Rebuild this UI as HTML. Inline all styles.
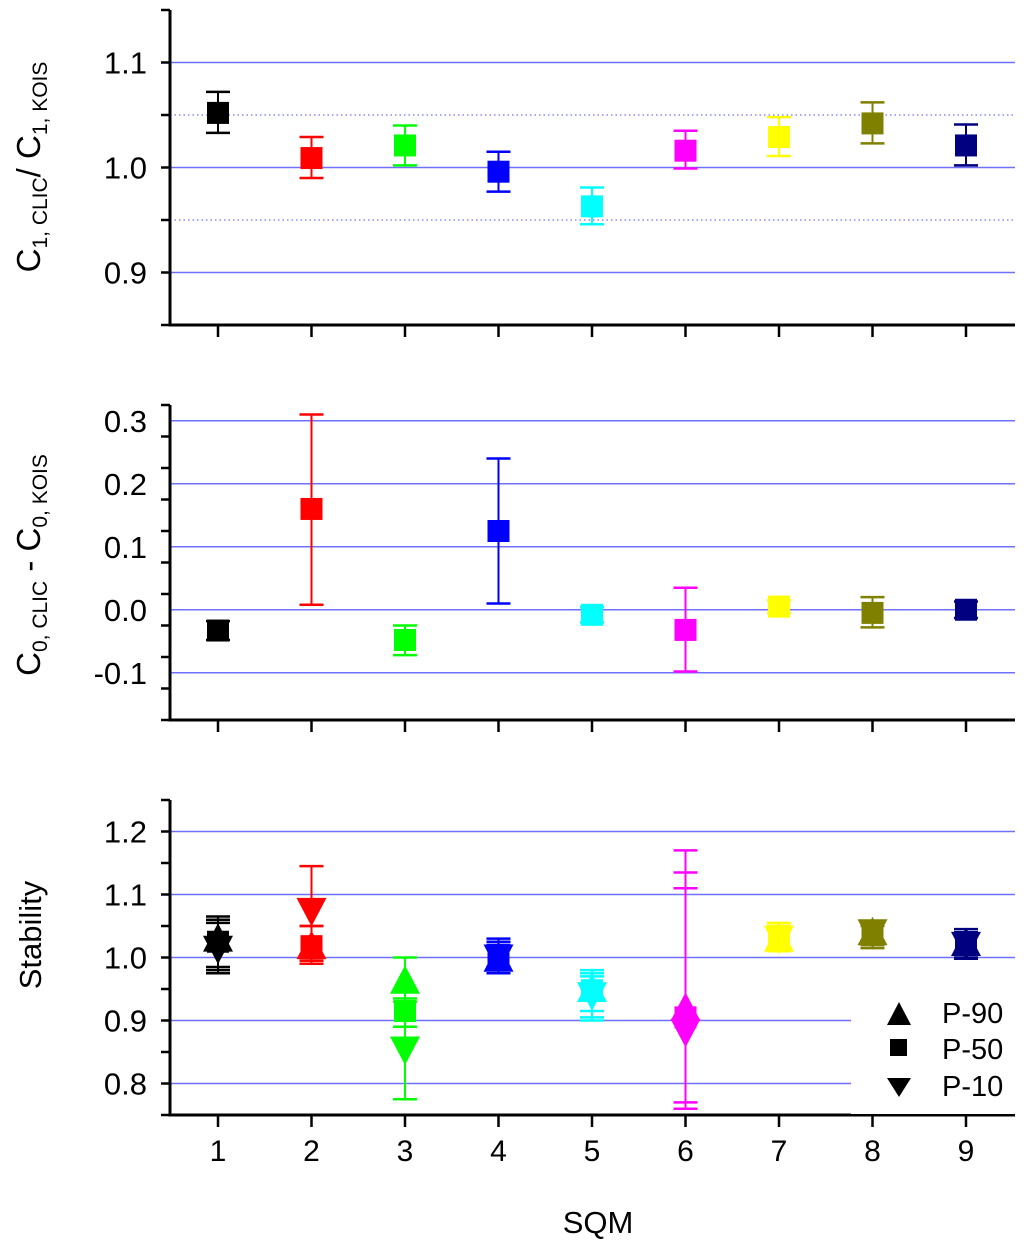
<!DOCTYPE html>
<html><head><meta charset="utf-8"><style>
html,body{margin:0;padding:0;background:#fff;}
svg{display:block;font-family:"Liberation Sans",Arial,sans-serif;}
</style></head><body>
<svg id="chart" width="1024" height="1246" viewBox="0 0 1024 1246"></svg>
<script>
const categories=[1,2,3,4,5,6,7,8,9];
const colors=["#000000","#ff0000","#00ff00","#0000ff","#00ffff","#ff00ff","#ffff00","#808000","#000080"];
const c1Values=[1.052,1.009,1.021,0.996,0.963,1.016,1.029,1.042,1.021];
const c1Low=[1.033,0.990,1.002,0.977,0.946,0.999,1.011,1.023,1.002];
const c1High=[1.072,1.029,1.040,1.015,0.981,1.035,1.048,1.062,1.041];
const c0Values=[-0.033,0.160,-0.048,0.125,-0.008,-0.032,0.005,-0.005,0.000];
const c0Low=[-0.048,0.008,-0.072,0.010,-0.020,-0.098,-0.005,-0.028,-0.013];
const c0High=[-0.018,0.310,-0.025,0.240,0.004,0.035,0.015,0.020,0.013];
const p90Values=[1.032,1.020,0.965,1.000,0.952,0.922,1.032,1.042,1.025];
const p90Low=[0.985,0.995,0.930,0.985,0.905,0.760,1.010,1.015,1.000];
const p90High=[1.065,1.050,1.000,1.030,0.980,1.170,1.055,1.055,1.045];
const p50Values=[1.025,1.018,0.915,1.002,0.948,0.905,1.030,1.042,1.022];
const p50Low=[0.980,0.990,0.890,0.985,0.915,0.770,1.015,1.020,0.998];
const p50High=[1.060,1.050,0.945,1.025,0.975,1.135,1.050,1.055,1.040];
const p10Values=[1.012,1.072,0.852,0.998,0.938,0.880,1.028,1.038,1.018];
const p10Low=[0.975,0.995,0.775,0.975,0.900,0.760,1.010,1.015,0.995];
const p10High=[1.055,1.145,0.935,1.020,0.970,1.110,1.050,1.050,1.040];
const c1Ticks=[0.9,1.0,1.1];
const c0Ticks=[-0.1,0.0,0.1,0.2,0.3];
const stTicks=[0.8,0.9,1.0,1.1,1.2];

const NS="http://www.w3.org/2000/svg";
const svg=document.getElementById('chart');
function mk(tag,attrs,parent){const e=document.createElementNS(NS,tag);for(const k in attrs)e.setAttribute(k,attrs[k]);(parent||svg).appendChild(e);return e;}
const X0=170,XR=1015;
function xs(c){return 218+(c-1)*93.5;}
function scale(top,bot,vmin,vmax){return v=>bot-(v-vmin)/(vmax-vmin)*(bot-top);}

function panel(name,top,bot,vmin,vmax,ticks,step,fmt,dotted){
  const g=mk('g',{});
  
  
  const y=scale(top,bot,vmin,vmax);
  ticks.forEach(t=>{const l=mk('line',{x1:X0,x2:XR,y1:y(t),y2:y(t),stroke:'#7070ff','stroke-width':1.5},g);
    
    const tx=mk('text',{x:X0-23,y:y(t)+11,'text-anchor':'end','font-size':31,fill:'#000'},g);tx.textContent=fmt(t);
    });
  (dotted||[]).forEach(t=>{const l=mk('line',{x1:X0,x2:XR,y1:y(t),y2:y(t),stroke:'#7070ff','stroke-width':1.2,'stroke-dasharray':'1.5,3'},g);
    });
  for(let v=vmin;v<=vmax+1e-9;v+=step){mk('line',{x1:X0-9,x2:X0,y1:y(v),y2:y(v),stroke:'#000','stroke-width':2.5},g);}
  const ax=mk('path',{d:`M${X0} ${top}V${bot}H${XR}`,fill:'none',stroke:'#000','stroke-width':3},g);
  
  categories.forEach(c=>mk('line',{x1:xs(c),x2:xs(c),y1:bot,y2:bot+12,stroke:'#000','stroke-width':2.5},g));
  return {g,y};
}
function errbar(g,x,yl,yh,col,w){
  mk('line',{x1:x,x2:x,y1:yl,y2:yh,stroke:col,'stroke-width':2},g);
  mk('line',{x1:x-w,x2:x+w,y1:yl,y2:yl,stroke:col,'stroke-width':2.5},g);
  mk('line',{x1:x-w,x2:x+w,y1:yh,y2:yh,stroke:col,'stroke-width':2.5},g);
}
function sq(g,x,y,col,s){return mk('rect',{x:x-s/2,y:y-s/2,width:s,height:s,fill:col},g);}
function tri(g,x,y,col,s,down){const h=s*0.95;const d=down?`M${x-s/2} ${y-h/2}L${x+s/2} ${y-h/2}L${x} ${y+h/2}Z`:`M${x-s/2} ${y+h/2}L${x+s/2} ${y+h/2}L${x} ${y-h/2}Z`;return mk('path',{d,fill:col},g);}

const p1=panel('panel-c1-ratio',10,325,0.85,1.15,c1Ticks,0.05,v=>v.toFixed(1),[0.95,1.05]);
categories.forEach((c,i)=>{const x=xs(c);errbar(p1.g,x,p1.y(c1Low[i]),p1.y(c1High[i]),colors[i],12);
  const r=sq(p1.g,x,p1.y(c1Values[i]),colors[i],22);});
const p2=panel('panel-c0-diff',405,720,-0.175,0.325,c0Ticks,0.05,v=>v.toFixed(1),[]);
categories.forEach((c,i)=>{const x=xs(c);errbar(p2.g,x,p2.y(c0Low[i]),p2.y(c0High[i]),colors[i],12);
  const r=sq(p2.g,x,p2.y(c0Values[i]),colors[i],22);});
const p3=panel('panel-stability',800,1115,0.75,1.25,stTicks,0.05,v=>v.toFixed(1),[]);
categories.forEach((c,i)=>{const x=xs(c);const col=colors[i];
  errbar(p3.g,x,p3.y(p90Low[i]),p3.y(p90High[i]),col,12);
  errbar(p3.g,x,p3.y(p50Low[i]),p3.y(p50High[i]),col,12);
  errbar(p3.g,x,p3.y(p10Low[i]),p3.y(p10High[i]),col,12);
  const a=tri(p3.g,x,p3.y(p90Values[i]),col,30,false);
  const b=sq(p3.g,x,p3.y(p50Values[i]),col,22);
  const d=tri(p3.g,x,p3.y(p10Values[i]),col,30,true);
});
categories.forEach(c=>{const t=mk('text',{x:xs(c),y:1161,'text-anchor':'middle','font-size':30},svg);t.textContent=c;
  });
</script>
<div style="position:absolute;left:0;top:0;width:1024px;height:1246px;pointer-events:none;">
<svg width="1024" height="1246" style="position:absolute;left:0;top:0;font-family:'Liberation Sans',Arial,sans-serif;">
  <g>
    <rect x="851" y="960" width="164" height="154" fill="#fff"/>
    <path d="M887 1025L911 1025L899 1002Z" fill="#000"/>
    <text x="942" y="1023" font-size="29">P-90</text>
    <rect x="890" y="1039" width="17" height="17" fill="#000"/>
    <text x="942" y="1059" font-size="29">P-50</text>
    <path d="M887 1078L911 1078L899 1097Z" fill="#000"/>
    <text x="942" y="1096" font-size="29">P-10</text>
  </g>
  <text x="598" y="1233" text-anchor="middle" font-size="31">SQM</text>
  <text transform="translate(40,167) rotate(-90)" text-anchor="middle" font-size="33">C<tspan font-size="21" dy="7">1, CLIC</tspan><tspan dy="-7">/ C</tspan><tspan font-size="21" dy="7">1, KOIS</tspan></text>
  <text transform="translate(40,565) rotate(-90)" text-anchor="middle" font-size="33">C<tspan font-size="21" dy="7">0, CLIC</tspan><tspan dy="-7"> - C</tspan><tspan font-size="21" dy="7">0, KOIS</tspan></text>
  <text transform="translate(41,935) rotate(-90)" text-anchor="middle" font-size="31">Stability</text>
</svg>
</div>
</body></html>
